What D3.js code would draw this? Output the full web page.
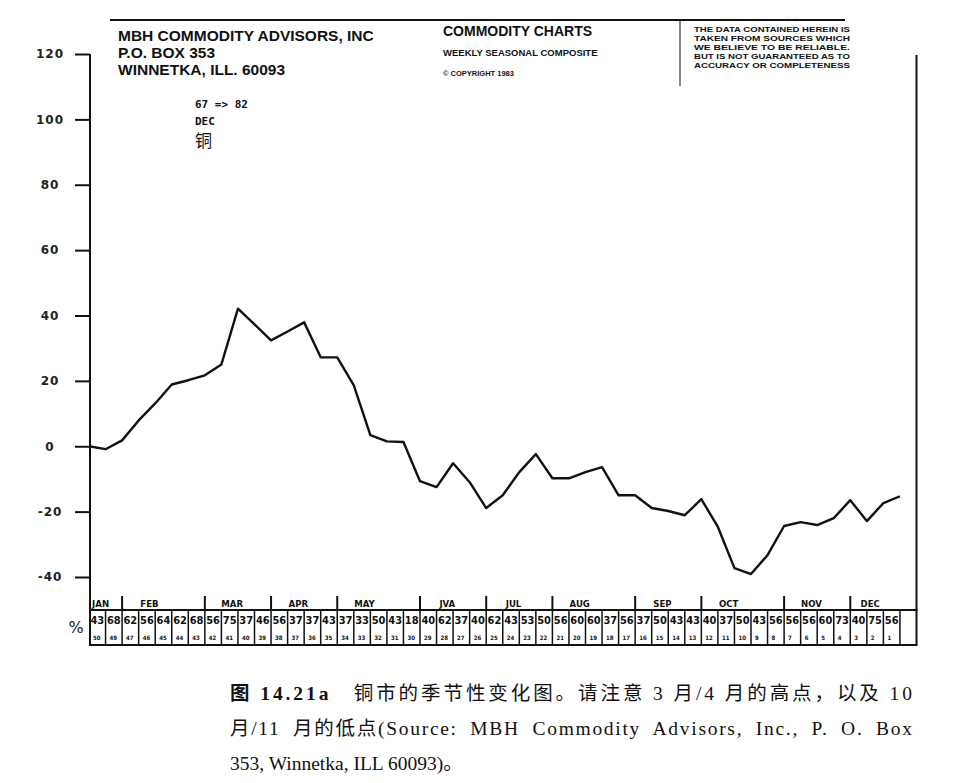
<!DOCTYPE html>
<html>
<head>
<meta charset="utf-8">
<script src="https://cdn.jsdelivr.net/npm/d3@7"></script>
<style>
  body { margin: 0; background: #fff; }
  svg { display: block; }
</style>
</head>
<body>
<div id="chart"></div>
<script>
// weekly seasonal composite, copper (DEC), 1967 => 1982
const seasonal = [
    0, -0.9, 1.8, 7.9, 13.1, 18.9, 20.2, 21.7, 25.0, 42.1,
    37.3, 32.4, 35.1, 37.9, 27.2, 27.2, 18.6, 3.4, 1.5, 1.3,
    -10.7, -12.5, -5.2, -11.0, -18.9, -15.0, -7.9, -2.4, -9.8, -9.8,
    -7.9, -6.4, -15.0, -15.0, -18.9, -19.8, -21.1, -16.2, -24.7, -37.3,
    -39.1, -33.3, -24.4, -23.2, -24.1, -22.0, -16.5, -22.9, -17.4, -15.3
];
const months = ["JAN", "FEB", "MAR", "APR", "MAY", "JVA", "JUL", "AUG", "SEP", "OCT", "NOV", "DEC"];
const monthWeeks = [2, 5, 4, 4, 5, 4, 4, 5, 4, 5, 4, 3];
const upPct = [
    43, 68, 62, 56, 64, 62, 68, 56, 75, 37, 46, 56, 37, 37, 43, 37, 33, 50, 43, 18,
    40, 62, 37, 40, 62, 43, 53, 50, 56, 60, 60, 37, 56, 37, 50, 43, 43, 40, 37, 50,
    43, 56, 56, 56, 60, 73, 40, 75, 56
];
const weeksLeft = [
    50, 49, 47, 46, 45, 44, 43, 42, 41, 40, 39, 38, 37, 36, 35, 34, 33, 32, 31, 30,
    29, 28, 27, 26, 25, 24, 23, 22, 21, 20, 19, 18, 17, 16, 15, 14, 13, 12, 11, 10,
    9, 8, 7, 6, 5, 4, 3, 2, 1
];
const yTicks = [120, 100, 80, 60, 40, 20, 0, -20, -40];

const headerLeft = ["MBH COMMODITY ADVISORS, INC", "P.O. BOX 353", "WINNETKA, ILL. 60093"];
const headerMid = ["COMMODITY CHARTS", "WEEKLY SEASONAL COMPOSITE", "\u00A9 COPYRIGHT 1983"];
const disclaimer = [
    "THE DATA CONTAINED HEREIN IS",
    "TAKEN FROM SOURCES WHICH",
    "WE BELIEVE TO BE RELIABLE.",
    "BUT IS NOT GUARANTEED AS TO",
    "ACCURACY OR COMPLETENESS"
];
const chartNote = ["67 => 82", "DEC", "铜"];
const caption = [
    ["图 14.21a", "\u3000铜市的季节性变化图。请注意 3 月/4 月的高点，以及 10"],
    ["", "月/11 月的低点(Source: MBH Commodity Advisors, Inc., P. O. Box"],
    ["", "353, Winnetka, ILL 60093)。"]
];

const width = 979, height = 783;
const nCells = 50;

const svg = d3.select("#chart").append("svg")
    .attr("width", width)
    .attr("height", height);

const x = d3.scaleLinear().domain([0, nCells]).range([89, 916.5]);
const y = d3.scaleLinear().domain([-40, 120]).range([577, 54]);

const sans = "'Liberation Sans', Arial, sans-serif";
const narrow = "'Liberation Sans Narrow', 'DejaVu Sans Condensed', 'Liberation Sans', sans-serif";

// header
svg.append("line")
    .attr("x1", 110).attr("x2", 845).attr("y1", 20).attr("y2", 20)
    .attr("stroke", "#111").attr("stroke-width", 2);
svg.append("line")
    .attr("x1", 680).attr("x2", 680).attr("y1", 21).attr("y2", 86)
    .attr("stroke", "#111").attr("stroke-width", 1);

svg.selectAll(".hl").data(headerLeft).join("text")
    .attr("x", 118).attr("y", (d, i) => 41 + i * 17)
    .attr("font-family", sans).attr("font-weight", "bold")
    .attr("font-size", 15.5).attr("fill", "#111")
    .text(d => d);

svg.selectAll(".hm").data(headerMid).join("text")
    .attr("x", 443).attr("y", (d, i) => [36, 56, 76][i])
    .attr("font-family", sans).attr("font-weight", "bold")
    .attr("font-size", (d, i) => [14, 9.5, 7.5][i]).attr("fill", "#111")
    .text(d => d);

svg.selectAll(".dc").data(disclaimer).join("text")
    .attr("x", 694).attr("y", (d, i) => 32 + i * 9)
    .attr("font-family", sans).attr("font-weight", "bold")
    .attr("font-size", 7.5).attr("fill", "#111")
    .attr("textLength", 156).attr("lengthAdjust", "spacingAndGlyphs")
    .text(d => d);

svg.selectAll(".nt").data(chartNote).join("text")
    .attr("x", 195).attr("y", (d, i) => [108, 125, 147][i])
    .attr("font-family", (d, i) => i < 2 ? "'DejaVu Sans Mono', monospace" : "'Noto Sans CJK SC', sans-serif")
    .attr("font-weight", (d, i) => i < 2 ? "bold" : "normal")
    .attr("font-size", (d, i) => i < 2 ? 11 : 17).attr("fill", "#111")
    .text(d => d);

// y axis
const yAxis = d3.axisLeft(y)
    .tickValues(yTicks)
    .tickSize(15)
    .tickPadding(8)
    .tickFormat(d => d);
const gy = svg.append("g")
    .attr("transform", `translate(${x(0) + 1}, 0)`)
    .call(yAxis);
gy.select(".domain").remove();
gy.selectAll(".tick line").attr("stroke", "#111").attr("stroke-width", 2);
gy.selectAll(".tick text")
    .attr("x", -40).attr("text-anchor", "middle")
    .attr("font-family", "'DejaVu Sans', sans-serif").attr("font-weight", "bold")
    .attr("font-size", 12).attr("letter-spacing", 1).attr("fill", "#222");

svg.append("line")
    .attr("x1", x(0) + 1).attr("x2", x(0) + 1)
    .attr("y1", y(120)).attr("y2", 645)
    .attr("stroke", "#111").attr("stroke-width", 2);
svg.append("line")
    .attr("x1", x(nCells)).attr("x2", x(nCells))
    .attr("y1", y(120) + 1).attr("y2", 645)
    .attr("stroke", "#111").attr("stroke-width", 2);

// seasonal line
const line = d3.line()
    .x((d, i) => x(i))
    .y(d => y(d));
svg.append("path")
    .datum(seasonal)
    .attr("d", line)
    .attr("fill", "none")
    .attr("stroke", "#111")
    .attr("stroke-width", 2.4)
    .attr("stroke-linejoin", "round");

// bottom table
const rowTop = 610, rowBot = 645;
svg.append("line")
    .attr("x1", x(0)).attr("x2", x(nCells) + 1).attr("y1", rowTop).attr("y2", rowTop)
    .attr("stroke", "#111").attr("stroke-width", 2);
svg.append("line")
    .attr("x1", x(0)).attr("x2", x(nCells) + 1).attr("y1", rowBot).attr("y2", rowBot)
    .attr("stroke", "#111").attr("stroke-width", 2);

svg.selectAll(".cell").data(d3.range(1, nCells)).join("line")
    .attr("x1", d => x(d)).attr("x2", d => x(d))
    .attr("y1", rowTop).attr("y2", rowBot)
    .attr("stroke", "#111").attr("stroke-width", 1.5);

const monthStart = d3.cumsum([0, ...monthWeeks]);
svg.selectAll(".msep").data(monthStart.slice(1, months.length)).join("line")
    .attr("x1", d => x(d)).attr("x2", d => x(d))
    .attr("y1", 596).attr("y2", rowTop)
    .attr("stroke", "#111").attr("stroke-width", 2);

svg.selectAll(".mlab").data(months).join("text")
    .attr("x", (d, i) => x(monthStart[i] + Math.min(1.65, monthWeeks[i] / 2 - 0.3)))
    .attr("y", 607)
    .attr("text-anchor", "middle")
    .attr("font-family", narrow).attr("font-weight", "bold")
    .attr("font-size", 9.5).attr("fill", "#111")
    .text(d => d);

svg.selectAll(".pct").data(upPct).join("text")
    .attr("x", (d, i) => x(i + 0.5)).attr("y", 624)
    .attr("text-anchor", "middle")
    .attr("font-family", narrow).attr("font-weight", "bold")
    .attr("font-size", 11).attr("fill", "#111")
    .text(d => d);

svg.selectAll(".wk").data(weeksLeft).join("text")
    .attr("x", (d, i) => x(i) + 4).attr("y", 640)
    .attr("font-family", narrow).attr("font-weight", "bold")
    .attr("font-size", 6).attr("fill", "#111")
    .text(d => d);

svg.append("text")
    .attr("x", 76).attr("y", 633)
    .attr("text-anchor", "middle")
    .attr("font-family", "'DejaVu Sans', sans-serif")
    .attr("font-size", 16).attr("fill", "#222")
    .text("%");

// caption, first two lines justified to the same width
const capW = 682;
const cap = svg.selectAll(".cap").data(caption).join("text")
    .attr("x", 230).attr("y", (d, i) => 700 + i * 35)
    .attr("font-family", "'Liberation Serif', 'Noto Sans CJK SC', serif")
    .attr("font-size", 19.5).attr("fill", "#111");
cap.append("tspan")
    .attr("font-weight", "bold")
    .text(d => d[0]);
cap.append("tspan")
    .text(d => d[1]);
cap.each(function (d, i) {
    if (i === 0) {
        d3.select(this).attr("textLength", capW).attr("lengthAdjust", "spacing");
    } else if (i === 1) {
        // part of the slack goes to the spaces, the rest spread over the glyphs
        const len = this.getComputedTextLength();
        const gaps = (d[1].match(/ /g) || []).length;
        const ws = Math.min(6, (capW - len) / Math.max(gaps, 1));
        d3.select(this).attr("word-spacing", ws)
            .attr("textLength", capW).attr("lengthAdjust", "spacing");
    }
});
</script>
</body>
</html>
